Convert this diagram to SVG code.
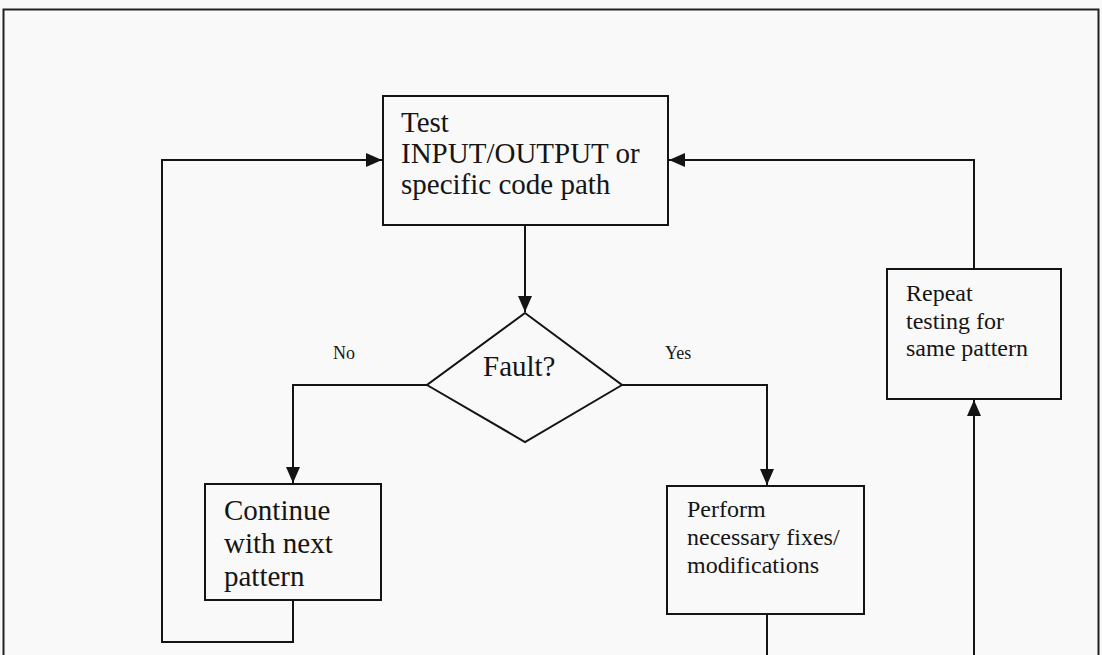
<svg xmlns="http://www.w3.org/2000/svg" width="1102" height="655" viewBox="0 0 1102 655">
  <style>
    .box { fill: none; stroke: #141414; stroke-width: 2; }
    .edge { fill: none; stroke: #141414; stroke-width: 2; }
    .lbl { font-family: "Liberation Serif", "Times New Roman", serif; fill: #151515; }
    .big { font-size: 29px; }
    .mid { font-size: 24px; }
    .small { font-size: 18px; }
  </style>
  <defs>
    <marker id="arrow" viewBox="0 0 16 14" refX="16" refY="7" markerWidth="16" markerHeight="14" markerUnits="userSpaceOnUse" orient="auto">
      <path d="M0,0 L16,7 L0,14 z" fill="#141414"/>
    </marker>
  </defs>

  <!-- page background and frame -->
  <rect x="0" y="0" width="1102" height="655" fill="#f9f9f9"/>
  <path d="M3.5,655 V9.5 H1098.5 V655" fill="none" stroke="#222" stroke-width="2"/>

  <!-- connectors -->
  <g id="connectors">
    <path class="edge" d="M525,225 V312" marker-end="url(#arrow)"/>
    <path class="edge" d="M427,385 H293 V483" marker-end="url(#arrow)"/>
    <path class="edge" d="M622,385 H767 V485" marker-end="url(#arrow)"/>
    <path class="edge" d="M293,600 V642 H162 V160 H382" marker-end="url(#arrow)"/>
    <path class="edge" d="M767,614 V655"/>
    <path class="edge" d="M974,655 V400" marker-end="url(#arrow)"/>
    <path class="edge" d="M974,269 V160 H669" marker-end="url(#arrow)"/>
  </g>

  <!-- test step -->
  <g id="test">
    <rect class="box" x="383" y="96" width="285" height="129"/>
    <text class="lbl big" x="401" y="132">Test</text>
    <text class="lbl big" x="401" y="163">INPUT/OUTPUT or</text>
    <text class="lbl big" x="401" y="194">specific code path</text>
  </g>

  <!-- fault decision -->
  <g id="fault">
    <path class="box" d="M525,313 L622,385 L525,442 L427,385 Z"/>
    <text class="lbl big" x="483" y="376">Fault?</text>
  </g>

  <g id="label-no">
    <text class="lbl small" x="333" y="359">No</text>
  </g>
  <g id="label-yes">
    <text class="lbl small" x="665" y="359">Yes</text>
  </g>

  <!-- no fault: move on -->
  <g id="continue">
    <rect class="box" x="205" y="484" width="176" height="116"/>
    <text class="lbl big" x="224" y="520">Continue</text>
    <text class="lbl big" x="224" y="553">with next</text>
    <text class="lbl big" x="224" y="586">pattern</text>
  </g>

  <!-- fault: fix it -->
  <g id="perform">
    <rect class="box" x="667" y="486" width="197" height="128"/>
    <text class="lbl mid" x="687" y="517">Perform</text>
    <text class="lbl mid" x="687" y="545">necessary fixes/</text>
    <text class="lbl mid" x="687" y="573">modifications</text>
  </g>

  <!-- retest -->
  <g id="repeat">
    <rect class="box" x="887" y="269" width="174" height="130"/>
    <text class="lbl mid" x="906" y="301">Repeat</text>
    <text class="lbl mid" x="906" y="329">testing for</text>
    <text class="lbl mid" x="906" y="356">same pattern</text>
  </g>
</svg>
